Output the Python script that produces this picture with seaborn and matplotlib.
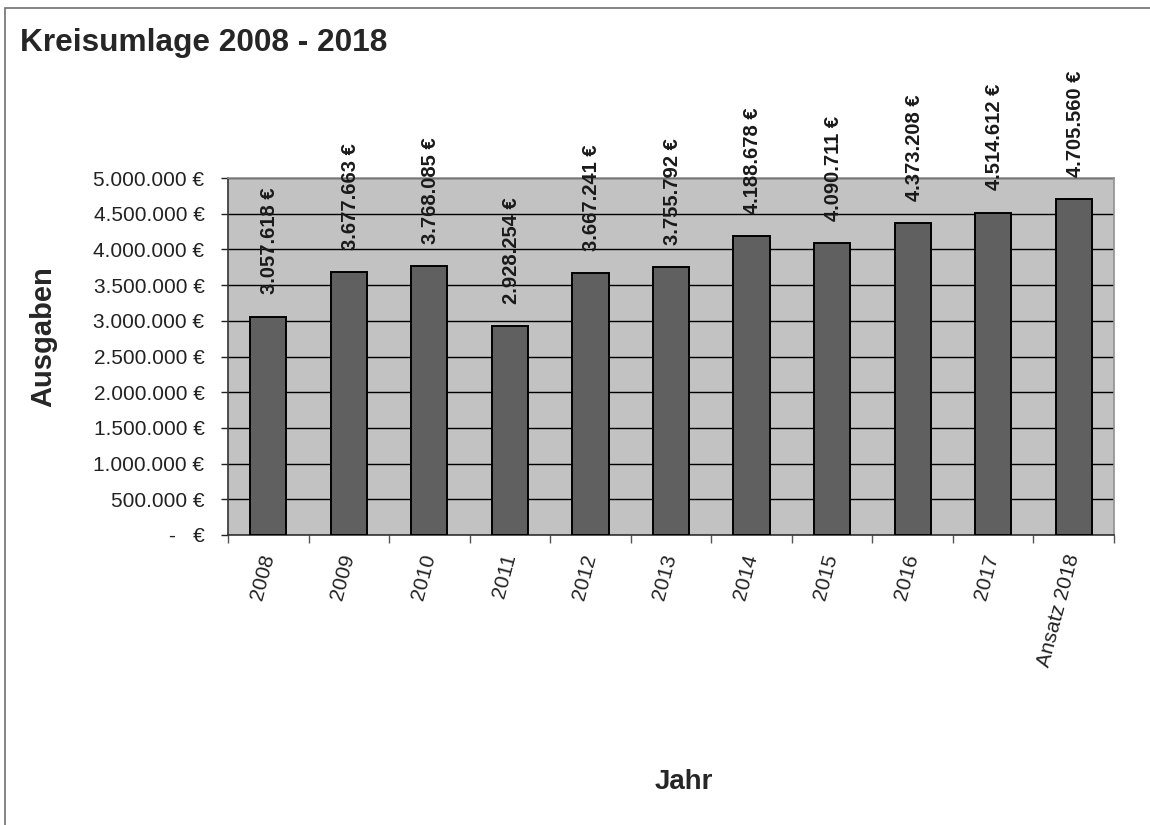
import pandas as pd
import matplotlib
matplotlib.use("Agg")
import matplotlib.pyplot as plt
import seaborn as sns
from matplotlib.patches import Rectangle
from matplotlib.ticker import FuncFormatter, FixedLocator

sns.set_style("white")
plt.rcParams['font.family'] = ['Liberation Sans', 'DejaVu Sans']

# ------------------------- DATA --------------------------------------
jahre = ['2008', '2009', '2010', '2011', '2012', '2013', '2014', '2015',
         '2016', '2017', 'Ansatz 2018']
ausgaben = [3057618, 3677663, 3768085, 2928254, 3667241, 3755792,
            4188678, 4090711, 4373208, 4514612, 4705560]
y_ticks = [0, 500000, 1000000, 1500000, 2000000, 2500000, 3000000,
           3500000, 4000000, 4500000, 5000000]

df = pd.DataFrame({'Jahr': jahre, 'Ausgaben': ausgaben})


def eur(v):
    if v == 0:
        return "-   €"
    return f"{int(v):,}".replace(",", ".") + " €"


# ------------------------- FIGURE ------------------------------------
fig = plt.figure(figsize=(11.5, 8.25), dpi=100)
ax = fig.add_axes([228/1150, 1-535/825, 886/1150, 357/825])
ax.set_facecolor('#c2c2c2')

sns.barplot(data=df, x='Jahr', y='Ausgaben', ax=ax, color='#606060',
            width=0.45, edgecolor='black', linewidth=1.4, saturation=1,
            zorder=3)

ax.set_ylim(0, 5000000)
ax.set_xlim(-0.5, len(jahre) - 0.5)
ax.yaxis.set_major_locator(FixedLocator(y_ticks))
ax.yaxis.set_major_formatter(FuncFormatter(lambda v, p: eur(v)))
ax.grid(axis='y', color='black', lw=1.0, zorder=1)
ax.set_axisbelow(True)

ax.tick_params(axis='y', labelsize=15, length=5, width=1, direction='out',
               pad=12, left=True, colors='#222222')
ax.tick_params(axis='x', which='major', length=0, labelsize=15, pad=14,
               colors='#222222')
ax.xaxis.set_minor_locator(FixedLocator([i + 0.5 for i in range(-1, len(jahre))]))
ax.tick_params(axis='x', which='minor', length=6, width=1, color='#555555',
               bottom=True)
for lbl in ax.get_xticklabels():
    lbl.set_rotation(75)
    lbl.set_ha('right')
    lbl.set_va('center')
    lbl.set_rotation_mode('anchor')

for s in ['top', 'right']:
    ax.spines[s].set_color('#909090')
    ax.spines[s].set_linewidth(1.2)
for s in ['left', 'bottom']:
    ax.spines[s].set_color('#333333')
    ax.spines[s].set_linewidth(1.2)

# value labels above bars
for i, v in enumerate(ausgaben):
    ax.annotate(eur(v), (i, v), xytext=(1, 16), textcoords='offset points',
                rotation=90, ha='center', va='bottom', fontsize=14.5,
                fontweight='bold', color='#1a1a1a', annotation_clip=False)

ax.set_xlabel('Jahr', fontsize=20, fontweight='bold')
ax.set_ylabel('Ausgaben', fontsize=21, fontweight='bold')
ax.xaxis.set_label_coords(0.514, -0.655)
ax.yaxis.set_label_coords(-0.193, 0.555)

fig.text(20/1150, 1-43/825, 'Kreisumlage 2008 - 2018', fontsize=22.8,
         fontweight='bold', ha='left', va='center')

# outer frame of the chart
fig.patches.append(Rectangle((5/1150, -0.02), 1.03, 1 - 8/825 + 0.02,
                             transform=fig.transFigure, fill=False,
                             edgecolor='#707070', lw=1.2))

fig.savefig('out.png', dpi=100, facecolor='white')
